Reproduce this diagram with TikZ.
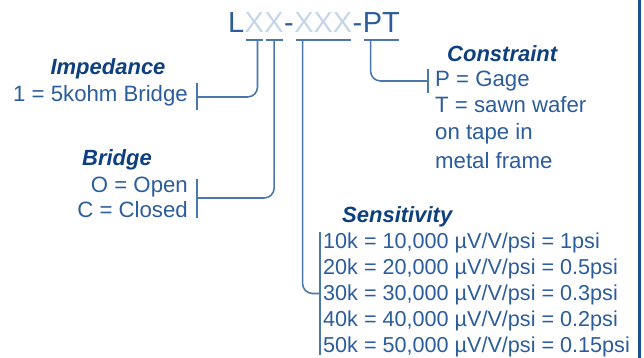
\documentclass[tikz,border=0pt]{standalone}
\usepackage{fontspec}
\setmainfont{Liberation Sans}
\usetikzlibrary{positioning}

\definecolor{codeblue}{HTML}{2B5C9C}
\definecolor{headblue}{HTML}{0E3F7E}
\definecolor{paleblue}{HTML}{C6D6E9}
\definecolor{linkblue}{HTML}{4A78AD}
\definecolor{rimblue}{HTML}{1C4F8F}

\tikzset{
  codepart/.style={font=\fontsize{29}{33}\selectfont, inner sep=0pt, text depth=0pt},
  headtext/.style={font=\fontsize{22}{26}\selectfont\bfseries\itshape, text=headblue, inner sep=0pt},
  entrytext/.style={font=\fontsize{22.2}{26}\selectfont, text=codeblue, inner sep=0pt},
  linkline/.style={draw=linkblue, line width=1.6pt, rounded corners=10pt},
  tickbar/.style={draw=linkblue, line width=1.4pt},
}

\begin{document}
\begin{tikzpicture}[x=1pt,y=-1pt]
\useasboundingbox (0,0) rectangle (644,358);
% part number
\node[codepart, text=codeblue, anchor=base west] (L) at (228,33) {L};
\node[codepart, text=paleblue, base right=0pt of L] (imp) {X};
\node[codepart, text=paleblue, base right=0pt of imp] (brg) {X};
\node[codepart, text=codeblue, base right=0pt of brg] (dashA) {-};
\node[codepart, text=paleblue, base right=0pt of dashA] (sens) {XXX};
\node[codepart, text=codeblue, base right=0pt of sens] (dashB) {-};
\node[codepart, text=codeblue, base right=0pt of dashB] (con) {PT};
\foreach \part in {imp,brg,sens,con}
    \draw[tickbar, line width=1.6pt] ([xshift=1.5pt,yshift=-7pt]\part.base west) -- ([xshift=-1.5pt,yshift=-7pt]\part.base east);

% impedance
\node[headtext, anchor=base] (impHead) at (108,75) {Impedance};
\node[entrytext, anchor=base east] (impVal) at (188,102) {1 = 5kohm Bridge};
\coordinate (impU) at ([xshift=13pt,yshift=-7pt]imp.base west);
\coordinate (impT) at (197,97);
\draw[linkline] (impU) |- (impT);
\draw[tickbar] ([yshift=13.5pt]impT) -- ([yshift=-13.5pt]impT);

% bridge
\node[headtext, anchor=base] (brgHead) at (117,165) {Bridge};
\node[entrytext, anchor=base east] (brgO) at (188,192) {O = Open};
\node[entrytext, anchor=base east] (brgC) at (188,217) {C = Closed};
\coordinate (brgU) at ([yshift=-7pt]brg.base);
\coordinate (brgT) at (197,198);
\draw[linkline] (brgU) |- (brgT);
\draw[tickbar] ([yshift=19.5pt]brgT) -- ([yshift=-19.5pt]brgT);

% sensitivity
\node[headtext, anchor=base west] (sensHead) at (342,222) {Sensitivity};
\foreach \k/\p [count=\i] in {1/1,2/0.5,3/0.3,4/0.2,5/0.15}
    \node[entrytext, font=\fontsize{21.6}{26}\selectfont, anchor=base west] (sens\i) at (323,222+26*\i) {\k0k = \k0,000 µV/V/psi = \p psi};
\coordinate (sensU) at ([xshift=8.5pt,yshift=-7pt]sens.base west);
\coordinate (sensT) at (320,293.5);
\draw[linkline] (sensU) |- (sensT);
\draw[tickbar] ([yshift=61.5pt]sensT) -- ([yshift=-61.5pt]sensT);

% constraint
\node[headtext, anchor=base west] (conHead) at (447,62) {Constraint};
\foreach \t/\yy [count=\i] in {P = Gage/87, T = sawn wafer/113, on tape in/140, metal frame/168}
    \node[entrytext, anchor=base west] (con\i) at (435,\yy) {\t};
\coordinate (conU) at ([xshift=8pt,yshift=-7pt]con.base west);
\coordinate (conT) at (428,81);
\draw[linkline] (conU) |- (conT);
\draw[tickbar] ([yshift=12pt]conT) -- ([yshift=-12pt]conT);

% frame edge
\draw[rimblue, line width=3pt] (639.5,0) -- (639.5,358);
\end{tikzpicture}
\end{document}
